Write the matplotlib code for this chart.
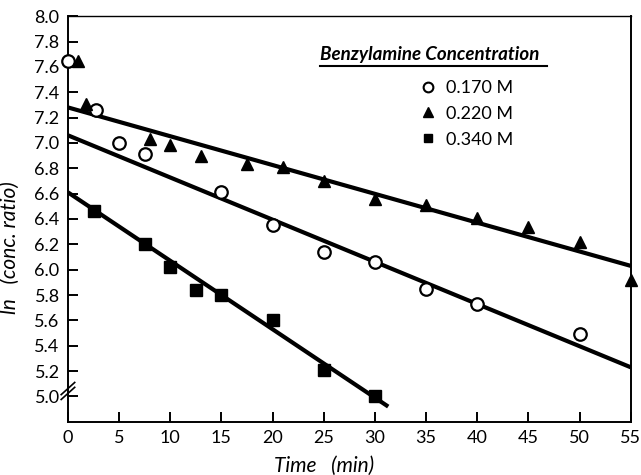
import matplotlib
matplotlib.use("Agg")
import matplotlib.pyplot as plt
import numpy as np
from matplotlib.lines import Line2D

plt.rcParams['font.family'] = ['Lato', 'DejaVu Sans']

# 0.170 M (open circles)
t_170 = [0, 2.7, 5, 7.5, 15, 20, 25, 30, 35, 40, 50]
y_170 = [7.65, 7.26, 7.00, 6.91, 6.61, 6.35, 6.14, 6.06, 5.85, 5.73, 5.49]
# 0.220 M (filled triangles)
t_220 = [1.0, 1.8, 8, 10, 13, 17.5, 21, 25, 30, 35, 40, 45, 50, 55]
y_220 = [7.65, 7.31, 7.03, 6.98, 6.90, 6.83, 6.81, 6.70, 6.56, 6.51, 6.41, 6.34, 6.22, 5.92]
# 0.340 M (filled squares)
t_340 = [2.5, 7.5, 10, 12.5, 15, 20, 25, 30]
y_340 = [6.46, 6.20, 6.02, 5.84, 5.80, 5.60, 5.21, 5.00]

# fitted lines: (intercept, end time, value at end)
fit_170 = (7.06, 55, 5.23)
fit_220 = (7.28, 55, 6.03)
fit_340 = (6.61, 31.3, 4.92)

labels = ['0.170 M', '0.220 M', '0.340 M']

fig = plt.figure(figsize=(6.41, 4.75), dpi=100)
ax = fig.add_axes([0.106, 0.112, 0.878, 0.854])

for b0, tend, yend in [fit_170, fit_220, fit_340]:
    ax.plot([0, tend], [b0, yend], color='black', lw=3.0, solid_capstyle='butt', zorder=2)

ax.plot(t_170, y_170, 'o', ms=9, mfc='white', mec='black', mew=1.6, ls='none', zorder=3, clip_on=False)
ax.plot(t_220, y_220, '^', ms=8.5, color='black', ls='none', zorder=3, clip_on=False)
ax.plot(t_340, y_340, 's', ms=8, color='black', ls='none', zorder=3, clip_on=False)

ax.set_xlim(0, 55)
ax.set_ylim(4.8, 8.0)
ax.set_xticks(np.arange(0, 56, 5))
ax.set_yticks(np.round(np.arange(5.0, 8.01, 0.2), 1))
ax.set_yticklabels([f'{v:.1f}' for v in np.arange(5.0, 8.01, 0.2)])
ax.tick_params(direction='in', length=7, width=1.4, labelsize=13, pad=6)
for s in ax.spines.values():
    s.set_linewidth(1.4)
ax.spines['top'].set_linewidth(1.0)

# axis break marks
for dy in (0.0, 0.012):
    ax.plot([-0.012, 0.012], [0.055 + dy, 0.085 + dy], transform=ax.transAxes,
            color='black', lw=1.2, clip_on=False)

ax.set_xlabel('Time   (min)', fontsize=15, fontstyle='italic', labelpad=8)
ax.xaxis.set_label_coords(0.455, -0.085)
ax.set_ylabel('ln   (conc. ratio)', fontsize=15, fontstyle='italic', labelpad=6)
ax.yaxis.set_label_coords(-0.085, 0.43)

# legend
handles = [
    Line2D([], [], marker='o', ls='none', ms=7, mfc='white', mec='black', mew=1.5),
    Line2D([], [], marker='^', ls='none', ms=7, color='black'),
    Line2D([], [], marker='s', ls='none', ms=6, color='black'),
]
ax.legend(handles, labels, loc='upper left', bbox_to_anchor=(0.598, 0.883), frameon=False,
          fontsize=13, handlelength=0.8, handletextpad=0.6, labelspacing=0.55)
ax.text(0.448, 0.885, 'Benzylamine Concentration', transform=ax.transAxes,
        fontsize=13.5, fontstyle='italic', fontweight='bold', ha='left', va='bottom')
ax.plot([0.448, 0.852], [0.877, 0.877], transform=ax.transAxes, color='black', lw=1.5, clip_on=False)

fig.savefig('out.png', dpi=100)
